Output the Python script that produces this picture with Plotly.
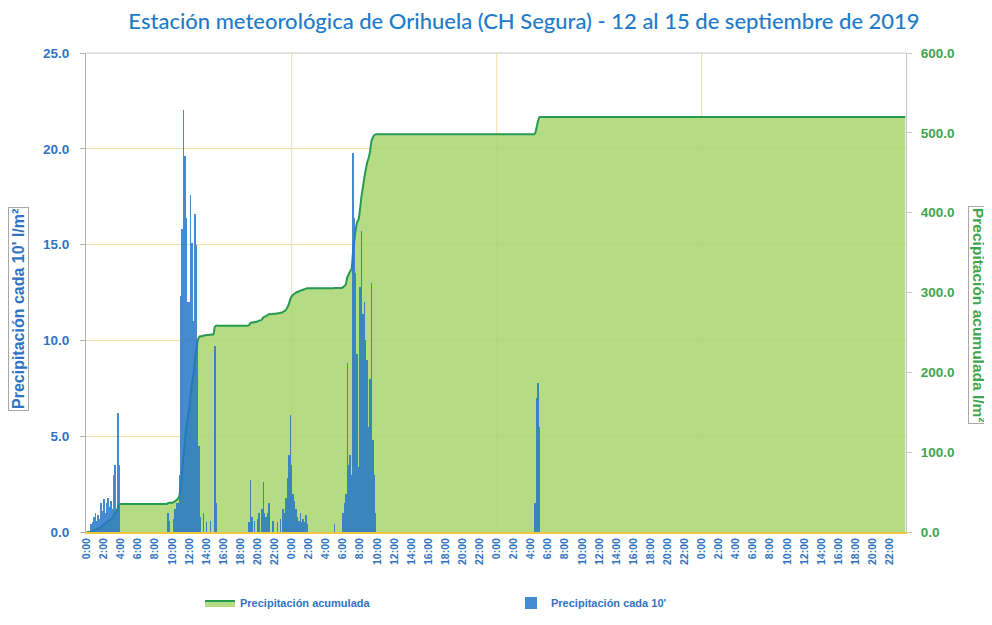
import numpy as np
import plotly.graph_objects as go

# ---------------- data ----------------
N_STEPS = 576  # 4 days of 10-minute intervals (12-15 Sept 2019)
day_ticks = ["0:00", "2:00", "4:00", "6:00", "8:00", "10:00",
             "12:00", "14:00", "16:00", "18:00", "20:00", "22:00"]
tick_labels = day_ticks * 4
tick_step = 12  # one label every 2 hours

# 10-minute precipitation (l/m2): interval index -> value (all others are 0)
rain_idx = [3, 4, 5, 6, 7, 8, 9,
            10, 11, 12, 13, 14, 15, 16,
            17, 18, 19, 20, 21, 22, 23,
            57, 58, 61, 62, 63,
            64, 65, 66, 67, 68, 69, 70, 71, 72, 73, 74, 75, 76, 77, 78, 79,
            80, 82, 84, 87, 90, 91,
            114, 115, 116, 118, 120, 121, 123, 124, 125, 126, 127, 128, 131, 134, 136,
            138, 139, 140, 141, 142, 143, 144, 145, 146, 147, 148, 149, 150, 151, 152, 153, 154, 155,
            174,
            180, 181, 182, 183, 184, 185, 186, 187, 188, 189, 190, 191, 192, 193, 194, 195,
            196, 197, 198, 199, 200, 201, 202, 203,
            315, 316, 317, 318]
rain_val = [0.4, 0.5, 0.8, 1.0, 0.6, 0.9, 0.7,
            1.5, 1.1, 1.7, 1.0, 1.5, 1.8, 1.3,
            1.6, 1.2, 3.0, 3.5, 1.2, 6.2, 3.5,
            1.0, 0.6, 0.7, 1.2, 1.5,
            1.5, 3.0, 12.3, 15.8, 22.0, 19.6, 16.4, 12.0, 12.0, 17.6, 15.1, 11.0, 16.6, 15.0, 10.0, 4.5,
            0.8, 1.0, 0.5, 0.6, 9.7, 1.5,
            0.5, 2.7, 0.8, 0.6, 0.7, 1.0, 1.2, 2.6, 1.0, 0.8, 1.0, 1.5, 0.6, 0.5, 0.7,
            1.2, 1.0, 1.8, 2.8, 4.0, 6.1, 3.5, 2.0, 1.6, 1.2, 0.8, 0.6, 1.0, 0.5, 0.7, 0.5, 0.9, 0.4,
            0.4,
            1.0, 1.5, 2.0, 8.8, 3.5, 4.0, 3.0, 19.8, 16.4, 13.5, 9.3, 3.4, 12.8, 15.7, 11.4, 12.0,
            10.0, 9.0, 5.5, 8.0, 13.0, 4.8, 3.0, 1.0,
            1.5, 7.0, 7.8, 5.5]

left_ticks = [0, 5, 10, 15, 20, 25]
right_ticks = [0, 100, 200, 300, 400, 500, 600]

# ---------------- build ----------------
x = np.arange(N_STEPS)
rain = np.zeros(N_STEPS)
rain[rain_idx] = rain_val
accum = np.cumsum(rain)

BLUE_TXT = "#2f73c2"
GREEN_TXT = "#3da650"
GRID = "#f7dcaa"
FONT = "Liberation Sans"

# page body has an 8px margin: figure coords = screen coords - 8
W, H = 984, 617
L, R, T, B = 78, 86, 45, 93
PW, PH = W - L - R, H - T - B


def px_x(sx):
    return (sx - 8 - L) / PW


def px_y(sy):
    return (H - B - (sy - 8)) / PH


fig = go.Figure()
fig.add_trace(go.Scatter(
    x=x, y=accum, name="Precipitación acumulada", mode="lines",
    line=dict(color="#259a50", width=2, shape="spline", smoothing=0.6),
    fill="tozeroy", fillcolor="rgba(165,212,106,0.82)", yaxis="y"))
fig.add_trace(go.Bar(
    x=x, y=rain, name="Precipitación cada 10'",
    marker=dict(color="rgba(38,118,200,0.85)", line=dict(width=0)),
    yaxis="y2"))

shapes = []
for d in (1, 2, 3):
    shapes.append(dict(type="line", xref="x", yref="paper", x0=d * 144, x1=d * 144,
                       y0=0, y1=1, line=dict(color=GRID, width=1), layer="below"))
shapes.append(dict(type="line", xref="paper", yref="paper", x0=0, x1=1, y0=1, y1=1,
                   line=dict(color="#c4c4c4", width=1), layer="above"))

fig.update_layout(
    width=W, height=H,
    margin=dict(l=L, r=R, t=T, b=B, autoexpand=False),
    paper_bgcolor="white", plot_bgcolor="white",
    bargap=0,
    title=dict(text="Estación meteorológica de Orihuela (CH Segura) - 12 al 15 de septiembre de 2019",
               x=(524 - 8) / W, xanchor="center", xref="container",
               y=1 - (21 - 8) / H, yanchor="middle",
               font=dict(family="Lato", size=22, color="#1f7bc8", weight=500)),
    xaxis=dict(range=[-0.5, N_STEPS - 0.5], tickmode="array", automargin=False,
               tickvals=list(range(0, N_STEPS, tick_step)), ticktext=tick_labels,
               tickangle=-90, tickfont=dict(family=FONT, size=10.5, color=BLUE_TXT, weight="bold"),
               showgrid=False, showline=True, linecolor="#f0c43c", linewidth=2,
               ticks="", zeroline=False),
    yaxis=dict(side="right", range=[0, 600], tickmode="array", tickvals=right_ticks, automargin=False,
               tickformat=".1f", showgrid=False, zeroline=False,
               showline=True, linecolor="#c4c4c4", ticks="outside", ticklen=5, tickcolor="#c4c4c4",
               tickfont=dict(family=FONT, size=13.5, color=GREEN_TXT, weight="bold"),
               ticklabelstandoff=6),
    yaxis2=dict(overlaying="y", side="left", range=[0, 25], tickmode="array", tickvals=left_ticks,
                automargin=False,
                tickformat=".1f", showgrid=True, gridcolor=GRID, zeroline=False,
                showline=True, linecolor="#b0b0b0", ticks="outside", ticklen=5, tickcolor="#b0b0b0",
                tickfont=dict(family=FONT, size=13.5, color=BLUE_TXT, weight="bold"),
                ticklabelstandoff=8),
    legend=dict(orientation="h", x=px_x(200), xanchor="left", y=px_y(603), yanchor="middle",
                entrywidth=266, entrywidthmode="pixels", itemwidth=30,
                font=dict(family=FONT, size=11, color=BLUE_TXT, weight="bold"),
                bgcolor="rgba(0,0,0,0)"),
    shapes=shapes,
    annotations=[
        dict(text="Precipitación cada 10' l/m²", xref="paper", yref="paper",
             x=px_x(18), y=px_y(309), xanchor="center", yanchor="middle",
             textangle=-90, showarrow=False,
             font=dict(family=FONT, size=16, color=BLUE_TXT, weight="bold"),
             bordercolor="#a8a8a8", borderwidth=1, borderpad=1, bgcolor="white"),
        dict(text="Precipitación acumulada l/m²", xref="paper", yref="paper",
             x=px_x(979), y=px_y(315), xanchor="center", yanchor="middle",
             textangle=90, showarrow=False,
             font=dict(family=FONT, size=15.5, color=GREEN_TXT, weight="bold"),
             bordercolor="#a8a8a8", borderwidth=1, borderpad=1, bgcolor="white"),
    ],
)

fig.write_html("out.html")
